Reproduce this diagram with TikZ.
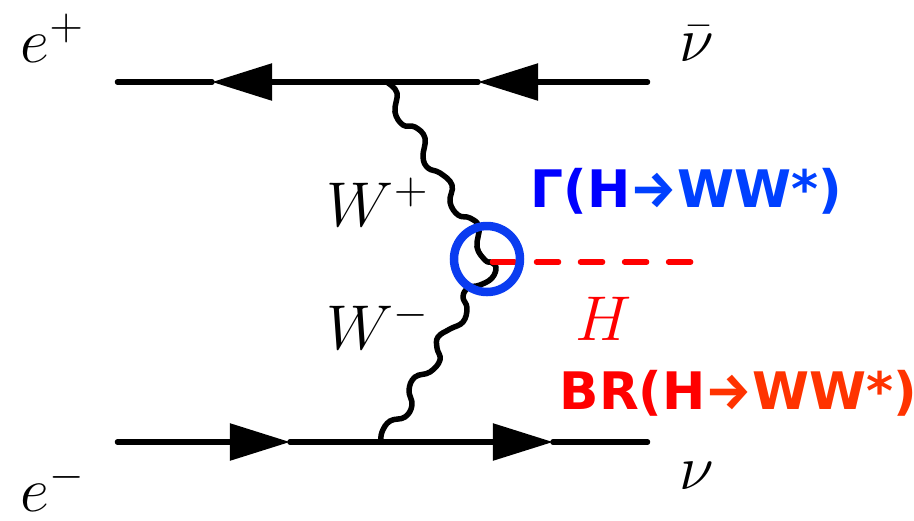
\RequirePackage{fix-cm}
\documentclass[tikz,border=0pt]{standalone}
\usepackage{fontspec}
\setsansfont{DejaVu Sans}
\newfontfamily\arrowfont{Fira Sans}
\usetikzlibrary{arrows.meta}
\definecolor{fgblue}{HTML}{0000FF}
\definecolor{fgbluelt}{HTML}{0040FF}
\definecolor{fgring}{HTML}{0A3CF0}
\definecolor{fgred}{HTML}{FF0000}
\definecolor{fgredlt}{HTML}{FF3300}

\begin{document}
\begin{tikzpicture}[x=0.01cm, y=-0.01cm, font=\fontsize{18}{22}\selectfont,
    fermion/.style={line width=0.055cm, line cap=round},
    headed/.style={fermion, -{Triangle[length=0.6cm, width=0.36cm]}},
    boson/.style={line width=0.055cm, line cap=round, line join=round},
    lbl/.style={anchor=base west, inner sep=0pt},
    rate/.style={anchor=base west, inner sep=0pt,
                 font=\fontsize{14.7}{17}\selectfont\sffamily\bfseries}]

\useasboundingbox (0,0) rectangle (914,520);

% --- end points and vertices -----------------------------------------------
\coordinate (epos)  at (117.5,82);
\coordinate (nubar) at (647.5,82);
\coordinate (eneg)  at (117.5,442);
\coordinate (nu)    at (647.5,442);
\coordinate (vtop)  at (388,83);
\coordinate (vbot)  at (381,442);
\coordinate (vhiggs) at (490,262);
\coordinate (hend)  at (691.5,262);
\coordinate (tipa) at (478,82);
\coordinate (tipb) at (212,82);
\coordinate (tipc) at (290,442);
\coordinate (tipd) at (553,442);

% --- fermion lines -- from/tip ----------------------------------------------
\foreach \from/\to in {nubar/tipa, tipa/tipb, eneg/tipc, tipc/tipd}
{
  \draw[headed] (\from) -- (\to);
}
\draw[fermion] (tipb) -- (epos);
\draw[fermion] (tipd) -- (nu);

% --- W lines, traced by hand -------------------------------------------------
\draw[boson] plot[smooth, tension=0.7] coordinates {(vtop) (397,93) (395,112)
    (403,125) (415,127) (425,138) (423,157) (428,168) (440,173) (452,185)
    (450,202) (458,215) (470,218) (479,227) (477,247) (485,260) (vhiggs)};
\draw[boson] plot[smooth, tension=0.7] coordinates {(vhiggs) (496,267) (492,278)
    (480,285) (468,288) (463,297) (467,308) (463,322) (450,329) (438,337)
    (437,348) (440,360) (430,372) (415,377) (409,390) (412,405) (405,417)
    (390,421) (382,432) (vbot)};

% --- Higgs ------------------------------------------------------------------
\draw[fgred, line width=0.055cm, line cap=round,
      dash pattern=on 0.22cm off 0.22cm] ([xshift=0.025cm]vhiggs) -- (hend);
\draw[fgring, line width=0.085cm] (487,259) circle (33);

% --- labels -----------------------------------------------------------------
\node[lbl] (lepos)  at (20,62)   {$e^+$};
\node[lbl] (leneg)  at (20,511)  {$e^-$};
\node[lbl] (lnubar) at (679,61)  {$\bar\nu$};
\node[lbl] (lnu)    at (679,489) {$\nu$};
\node[lbl] (lwp)    at (326,226) {$W^+$};
\node[lbl] (lwm)    at (326,349) {$W^-$};
\node[lbl, text=fgred] (lh) at (575,340) {$H$};
\node[rate] (lgamma) at (530,207)
  {\textcolor{fgblue}{Γ(H}\textcolor{fgbluelt}{{\arrowfont→}WW*)}};
\node[rate] (lbr) at (559,409)
  {\textcolor{fgred}{BR(H}\textcolor{fgredlt}{{\arrowfont→}WW*)}};
\end{tikzpicture}
\end{document}
